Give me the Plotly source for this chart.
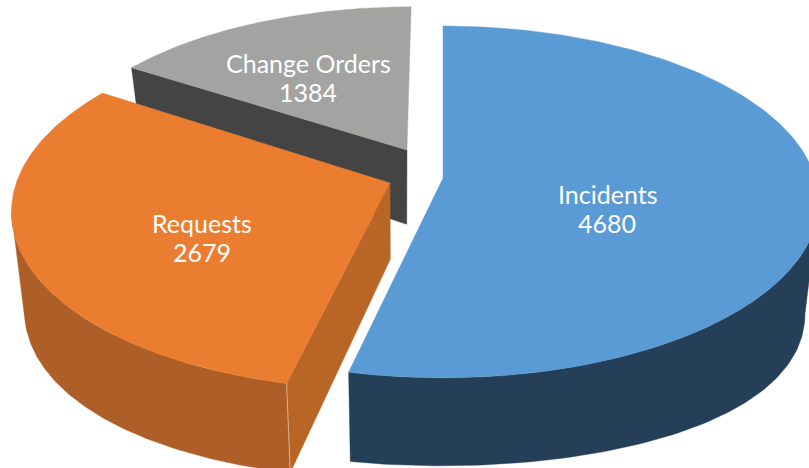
import numpy as np
import plotly.graph_objects as go

categories = ["Incidents", "Requests", "Change Orders"]
values = [4680, 2679, 1384]
top_colors = ["#5B9BD5", "#EB7D31", "#A3A3A2"]
outer_colors = ["#243F57", "#AE5E27", "#444444"]
cut_colors = ["#243F57", "#B96526", "#444444"]
apex_px = [(443, 178), (390, 183), (407, 150)]
radius_x = [0.985, 0.985, 0.96]
radius_y = [1.0, 1.02, 0.98]
low_bump = [35, 20, 0]
label_px = [(607, 194), (202, 223), (308, 63)]
LINE_GAP = 29
FONT = "Lato, sans-serif"
FONT_SIZE = 25

OX, OY = 443, 178
R, B, K = 378, 172.7, 0.136
H = 76
ZS = 0.967
ZX = 400


def project(u, v, low=False, extra=0):
    w = 1 - K * v
    x = OX + R * u / w
    y = OY + B * v / w
    if low:
        x = ZX + (x - ZX) * ZS
        y = y + H / w + extra
    return x, y


def unproject(px, py):
    Y = py - OY
    v = Y / (B + K * Y)
    return (px - OX) * (1 - K * v) / R, v


def arc(c, a0, a1, rx, ry, n=200):
    t = np.radians(np.linspace(a0, a1, n))
    return c[0] + rx * np.sin(t), c[1] - ry * np.cos(t), -np.cos(t)


def poly(x, y, color):
    return go.Scatter(
        x=list(x) + [x[0]], y=list(y) + [y[0]], mode="lines", fill="toself",
        fillcolor=color, line=dict(width=0.4, color=color), hoverinfo="skip", showlegend=False,
    )


total = sum(values)
angles = np.concatenate([[0], np.cumsum(values) / total * 360])
centers = [unproject(*a) for a in apex_px]
layers = {i: [] for i in range(3)}
annotations = []

for i in range(3):
    a0, a1 = angles[i], angles[i + 1]
    c = centers[i]
    au, av, rel = arc(c, a0, a1, radius_x[i], radius_y[i])
    extra = low_bump[i] * np.clip(1 - rel ** 2, 0, 1)
    tx, ty = project(au, av)
    ax, ay = project(*c)
    lx, ly = project(au, av, True, extra)
    alx, aly = project(c[0], c[1], True)
    # rim wall, from the silhouette point of each arc to the front cut
    if i == 0:
        t0, l0 = int(np.argmax(tx)), int(np.argmax(lx))
        layers[i].append(poly(np.r_[tx[t0:], lx[l0:][::-1]], np.r_[ty[t0:], ly[l0:][::-1]], outer_colors[i]))
    if i == 1:
        t1, l1 = int(np.argmin(tx)), int(np.argmin(lx))
        layers[i].append(poly(np.r_[tx[:t1 + 1], lx[:l1 + 1][::-1]],
                              np.r_[ty[:t1 + 1], ly[:l1 + 1][::-1]], outer_colors[i]))
    if i == 1 or i == 2:
        layers[i].append(poly([ax, tx[0], lx[0], alx], [ay, ty[0], ly[0], aly], cut_colors[i]))
    layers[i].append(poly(np.r_[ax, tx], np.r_[ay, ty], top_colors[i]))
    if i == 1:
        layers[i].append(go.Scatter(x=[tx[0], lx[0]], y=[ty[0], ly[0]], mode="lines",
                                    line=dict(width=0.8, color="#E3BFA3"),
                                    hoverinfo="skip", showlegend=False))
    for j, txt in enumerate([categories[i], str(values[i])]):
        annotations.append(dict(x=label_px[i][0], y=label_px[i][1] + j * LINE_GAP,
                                xref="x", yref="y", showarrow=False, text=txt,
                                font=dict(family=FONT, size=FONT_SIZE, color="white")))

fig = go.Figure()
for i in [2, 1, 0]:
    fig.add_traces(layers[i])

fig.update_layout(
    width=809, height=468, margin=dict(l=0, r=0, t=0, b=0),
    paper_bgcolor="white", plot_bgcolor="white", showlegend=False,
    xaxis=dict(range=[0, 809], visible=False, fixedrange=True),
    yaxis=dict(range=[468, 0], visible=False, fixedrange=True),
    annotations=annotations,
)
fig.write_html("out.html", config={"displayModeBar": False},
               post_script="document.body.style.margin='0';")
